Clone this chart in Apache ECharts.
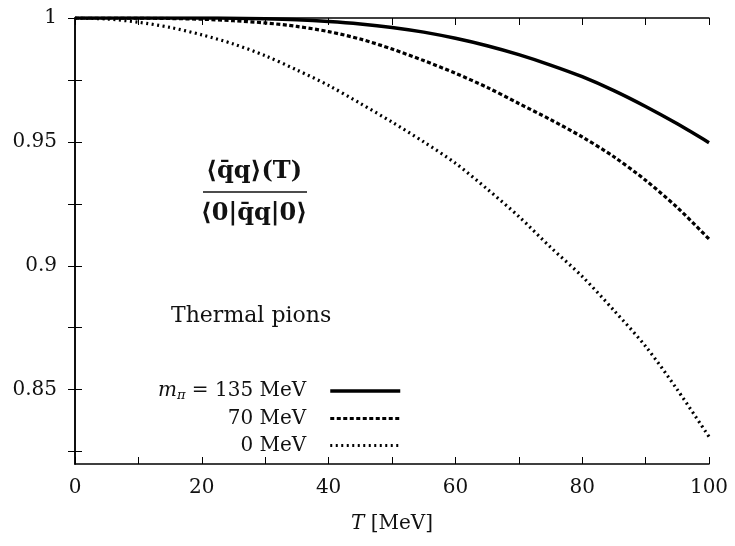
<!DOCTYPE html>
<html>
<head>
<meta charset="utf-8">
<script src="https://cdn.jsdelivr.net/npm/echarts@6/dist/echarts.min.js"></script>
<style>
html,body{margin:0;padding:0;background:#fff;}
#c{width:735px;height:546px;}
</style>
</head>
<body>
<div id="c"></div>
<script>
// Temperature T [MeV]
var T = [0,5,10,15,20,25,30,35,40,45,50,55,60,65,70,75,80,85,90,95,100];
// <qq>(T)/<0|qq|0> for m_pi = 135 MeV
var m135 = [1,1,1,1,1,0.9999,0.9997,0.9993,0.9986,0.9976,0.9962,0.9943,0.9918,0.9888,0.9852,0.981,0.9763,0.9707,0.9643,0.9573,0.9497];
// m_pi = 70 MeV
var m70 = [1,1,0.99995,0.9998,0.9995,0.9989,0.998,0.9966,0.9945,0.9915,0.9875,0.9828,0.9777,0.972,0.9655,0.959,0.952,0.944,0.9345,0.9235,0.9108];
// m_pi = 0 MeV
var m0 = [1,0.9996,0.9983,0.9962,0.9932,0.9895,0.9848,0.979,0.9728,0.9655,0.958,0.95,0.9414,0.931,0.9199,0.9075,0.8957,0.882,0.8675,0.85,0.831];
// axis ticks
var xTicks = [0,10,20,30,40,50,60,70,80,90,100];
var xLabels = [0,20,40,60,80,100];
var yTicks = [0.825,0.85,0.875,0.9,0.925,0.95,0.975,1];
var yLabels = [0.85,0.9,0.95,1];
var seriesNames = ['135','70','0'];

var FONT = 'DejaVu Serif';
var chart = echarts.init(document.getElementById('c'), null, {renderer:'canvas'});

function pairs(arr){ return T.map(function(t,i){ return [t, arr[i]]; }); }

var axisLineStyle = {color:'#000', width:1.5};
var tickStyle = {color:'#000', width:1};
var lineStyles = [
  {color:'#000', width:3.5, type:'solid'},
  {color:'#000', width:3.2, type:[4,2.5]},
  {color:'#000', width:3.2, type:[2,3.5]}
];

var option = {
  animation:false,
  backgroundColor:'#fff',
  grid:{left:75, right:26, top:18, bottom:82, containLabel:false},
  xAxis:[{
    type:'value', min:0, max:100, interval:10, position:'bottom',
    axisLine:{show:true, lineStyle:axisLineStyle},
    axisTick:{show:true, inside:true, length:7, lineStyle:tickStyle, customValues:xTicks},
    axisLabel:{show:true, customValues:xLabels, margin:14, fontFamily:FONT, fontSize:20, color:'#111'},
    splitLine:{show:false},
    name:'{i|T} [MeV]', nameLocation:'middle', nameGap:50,
    nameTextStyle:{fontFamily:FONT, fontSize:20, color:'#111',
      rich:{i:{fontFamily:FONT, fontStyle:'italic', fontSize:20, color:'#111'}}}
  },{
    type:'value', min:0, max:100, interval:10, position:'top',
    axisLine:{show:true, lineStyle:axisLineStyle},
    axisTick:{show:true, inside:true, length:7, lineStyle:tickStyle, customValues:xTicks},
    axisLabel:{show:false}, splitLine:{show:false}
  }],
  yAxis:[{
    type:'value', min:0.82, max:1, position:'left',
    axisLine:{show:true, lineStyle:axisLineStyle},
    axisTick:{show:true, inside:true, length:7, lineStyle:tickStyle, customValues:yTicks},
    axisLabel:{show:true, customValues:yLabels, margin:18, fontFamily:FONT, fontSize:20, color:'#111',
      formatter:function(v){ return String(+(+v).toFixed(3)); }},
    splitLine:{show:false}
  },{
    type:'value', min:0.82, max:1, position:'right',
    axisLine:{show:true, lineStyle:axisLineStyle},
    axisTick:{show:true, inside:true, length:7, lineStyle:tickStyle, customValues:yTicks},
    axisLabel:{show:false}, splitLine:{show:false}
  }],
  legend:{
    show:true, orient:'vertical', align:'right', right:328, top:375,
    itemWidth:70, itemHeight:14, itemGap:6,
    itemStyle:{opacity:0, color:'rgba(0,0,0,0)', borderColor:'rgba(0,0,0,0)', borderWidth:0},
    data:seriesNames.map(function(n,i){ return {name:n, lineStyle:lineStyles[i]}; }),
    textStyle:{fontFamily:FONT, fontSize:20, color:'#111', lineHeight:21,
      rich:{
        i:{fontFamily:FONT, fontStyle:'italic', fontSize:20, color:'#111', lineHeight:21},
        s:{fontFamily:FONT, fontStyle:'italic', fontSize:13, color:'#111', padding:[9,0,0,0], lineHeight:21},
        n:{fontFamily:FONT, fontSize:20, color:'#111', lineHeight:21, padding:[0,19,0,0]}
      }},
    formatter:function(name){
      if(name==='135') return '{i|m}{s|π}{n| = 135 MeV}';
      return '{n|' + name + ' MeV}';
    }
  },
  graphic:[
    {type:'text', left:171, top:305, style:{text:'Thermal pions', font:'22px "DejaVu Serif"', fill:'#111'}},
    {type:'text', x:254, y:172, style:{text:'\u27E8q\u0304q\u27E9(T)', font:'bold 24px "DejaVu Serif"', fill:'#111', align:'center', verticalAlign:'middle'}},
    {type:'line', shape:{x1:203, y1:192, x2:307, y2:192}, style:{stroke:'#111', lineWidth:1.5}},
    {type:'text', x:254, y:214, style:{text:'\u27E80|q\u0304q|0\u27E9', font:'bold 24px "DejaVu Serif"', fill:'#111', align:'center', verticalAlign:'middle'}}
  ],
  series:[
    {name:'135', type:'line', data:pairs(m135), smooth:0.3, symbol:'none', xAxisIndex:0, yAxisIndex:0,
      lineStyle:lineStyles[0], itemStyle:{color:'#000'}},
    {name:'70', type:'line', data:pairs(m70), smooth:0.3, symbol:'none', xAxisIndex:0, yAxisIndex:0,
      lineStyle:lineStyles[1], itemStyle:{color:'#000'}},
    {name:'0', type:'line', data:pairs(m0), smooth:0.3, symbol:'none', xAxisIndex:0, yAxisIndex:0,
      lineStyle:lineStyles[2], itemStyle:{color:'#000'}}
  ]
};
chart.setOption(option);
</script>
</body>
</html>
